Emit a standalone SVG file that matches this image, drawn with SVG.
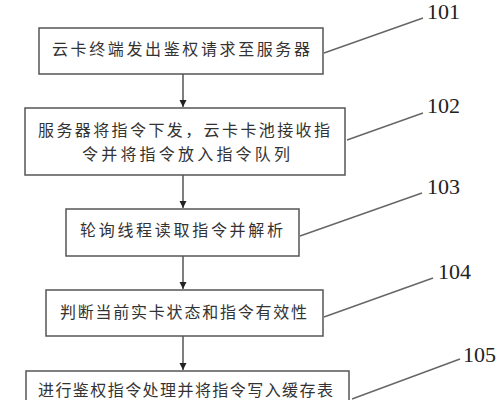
<svg xmlns="http://www.w3.org/2000/svg" width="502" height="400" viewBox="0 0 502 400">
<defs>
<style>
.box{fill:#fff;stroke:#555;stroke-width:1.5}
.t{font-family:"Noto Sans CJK SC","Liberation Sans",sans-serif;font-size:16px;fill:#333}
.lbl{font-family:"Liberation Serif",serif;font-size:22px;fill:#222}
.ln{stroke:#555;stroke-width:1.5;fill:none}
.lead{stroke:#666;stroke-width:1.4;fill:none}
</style>
<marker id="ah" viewBox="0 0 10 10" refX="10" refY="5" markerWidth="7" markerHeight="10" markerUnits="userSpaceOnUse" orient="auto">
<path d="M0,0 L10,5 L0,10 Z" fill="#222"/>
</marker>
</defs>
<rect width="502" height="400" fill="#fff"/>
<g id="n101">
<rect class="box" x="39" y="28" width="284" height="46"/>
<text class="t" x="52" y="55" textLength="258" lengthAdjust="spacing">云卡终端发出鉴权请求至服务器</text>
</g>
<g id="n102">
<rect class="box" x="25" y="108" width="320" height="67"/>
<text class="t" x="38" y="136" textLength="292" lengthAdjust="spacing">服务器将指令下发，云卡卡池接收指</text>
<text class="t" x="82" y="160" textLength="208" lengthAdjust="spacing">令并将指令放入指令队列</text>
</g>
<g id="n103">
<rect class="box" x="66" y="209" width="233" height="47"/>
<text class="t" x="80" y="236" textLength="203" lengthAdjust="spacing">轮询线程读取指令并解析</text>
</g>
<g id="n104">
<rect class="box" x="46" y="290" width="277" height="46"/>
<text class="t" x="60" y="318" textLength="247" lengthAdjust="spacing">判断当前实卡状态和指令有效性</text>
</g>
<g id="n105">
<rect class="box" x="26" y="371" width="323" height="40"/>
<text class="t" x="38" y="396" textLength="295" lengthAdjust="spacing">进行鉴权指令处理并将指令写入缓存表</text>
</g>
<g id="connectors">
<line class="ln" x1="183" y1="74" x2="183" y2="107" marker-end="url(#ah)"/>
<line class="ln" x1="183" y1="175" x2="183" y2="208" marker-end="url(#ah)"/>
<line class="ln" x1="183" y1="256" x2="183" y2="289" marker-end="url(#ah)"/>
<line class="ln" x1="183" y1="336" x2="183" y2="370" marker-end="url(#ah)"/>
<line class="lead" x1="324" y1="53" x2="423" y2="18"/>
<line class="lead" x1="347" y1="140" x2="423" y2="113"/>
<line class="lead" x1="300" y1="236" x2="422" y2="193"/>
<line class="lead" x1="324" y1="317" x2="433" y2="278"/>
<line class="lead" x1="352" y1="399" x2="460" y2="359"/>
</g>
<g id="labels">
<text class="lbl" x="427" y="19">101</text>
<text class="lbl" x="427" y="113">102</text>
<text class="lbl" x="427" y="194">103</text>
<text class="lbl" x="438" y="279">104</text>
<text class="lbl" x="463" y="362">105</text>
</g>
</svg>
